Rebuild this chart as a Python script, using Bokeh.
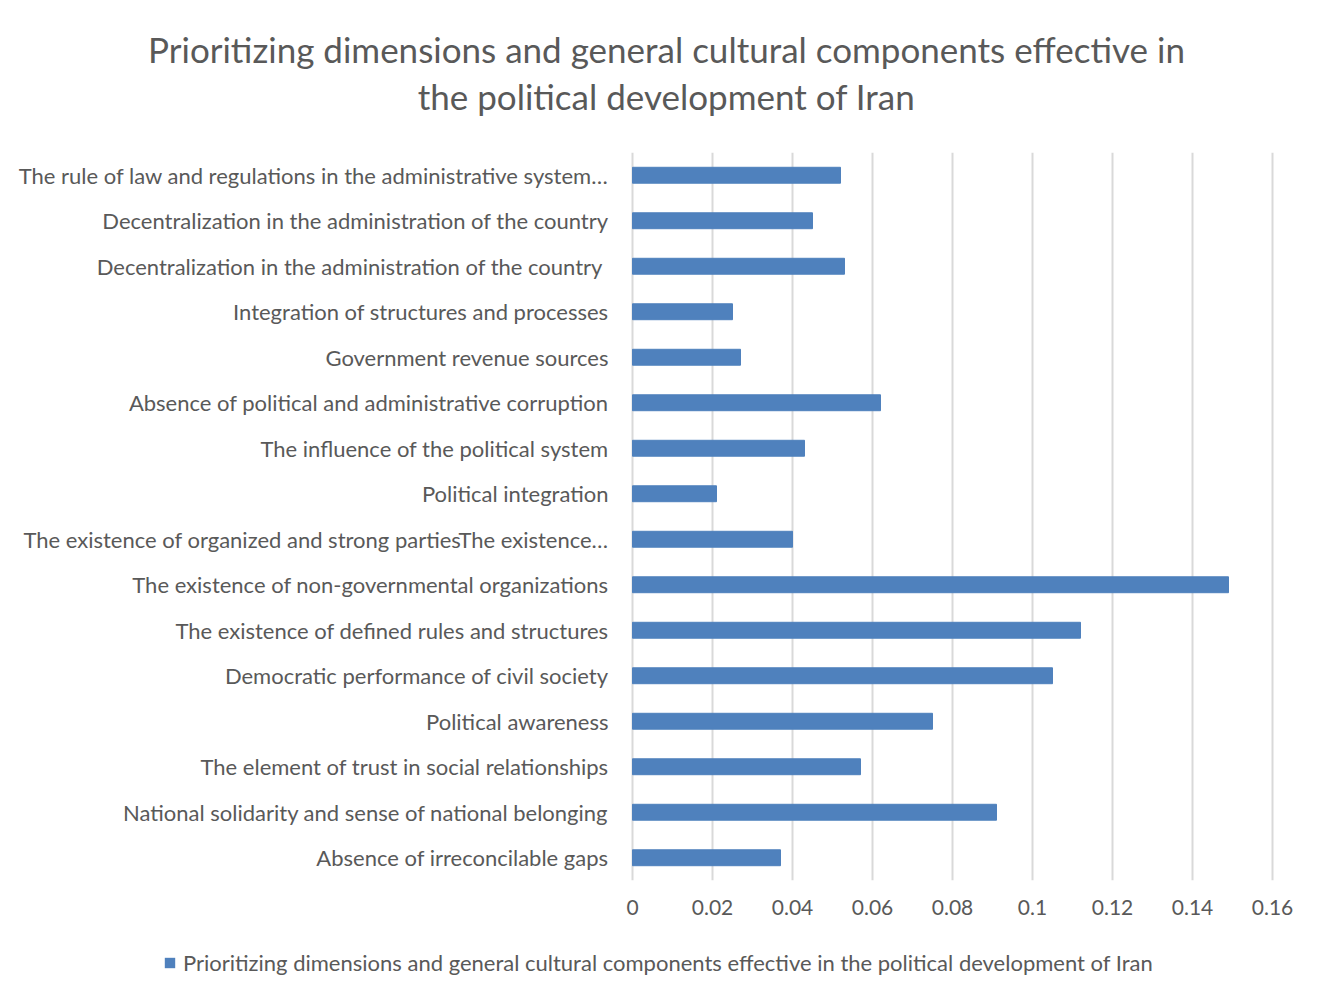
from bokeh.plotting import figure
from bokeh.models import FactorRange, Range1d, Legend, LegendItem, ColumnDataSource, FixedTicker
from bokeh.layouts import column
from bokeh.core.properties import value
from bokeh.embed import file_html
from bokeh.resources import INLINE

title_lines = ["Prioritizing dimensions and general cultural components effective in",
               "the political development of Iran"]
series_name = "Prioritizing dimensions and general cultural components effective in the political development of Iran"

categories = [
    "The rule of law and regulations in the administrative system…",
    "Decentralization in the administration of the country",
    "Decentralization in the administration of the country ",
    "Integration of structures and processes",
    "Government revenue sources",
    "Absence of political and administrative corruption",
    "The influence of the political system",
    "Political integration",
    "The existence of organized and strong partiesThe existence…",
    "The existence of non-governmental organizations",
    "The existence of defined rules and structures",
    "Democratic performance of civil society",
    "Political awareness",
    "The element of trust in social relationships",
    "National solidarity and sense of national belonging",
    "Absence of irreconcilable gaps",
]
values = [0.052, 0.045, 0.053, 0.025, 0.027, 0.062, 0.043, 0.021,
          0.040, 0.149, 0.112, 0.105, 0.075, 0.057, 0.091, 0.037]
x_ticks = [0, 0.02, 0.04, 0.06, 0.08, 0.1, 0.12, 0.14, 0.16]
x_tick_labels = ["0", "0.02", "0.04", "0.06", "0.08", "0.1", "0.12", "0.14", "0.16"]

FONT = "Lato"
GREY = "#595959"
BAR = "#4f81bd"
W = 1320                 # canvas width (px)
TITLE_H = 152            # title strip height (px)
PX_PER_UNIT = 4000       # horizontal scale: 0.02 -> 80 px
LEFT_PX = 632            # pixel position of value 0
RIGHT_PX = 48            # space right of value 0.16

# ---------------- title strip ----------------
pt = figure(frame_width=W, frame_height=TITLE_H, output_backend="svg", toolbar_location=None,
            x_range=Range1d(0, W), y_range=Range1d(TITLE_H, 0),
            x_axis_location=None, y_axis_location=None)
pt.min_border = 0
pt.grid.visible = False
pt.outline_line_color = None
pt.background_fill_color = "white"
pt.border_fill_color = "white"
pt.text(x=[666, 666], y=[48, 95], text=title_lines, text_align="center",
        text_baseline="middle", text_font=value(FONT), text_font_size="35px",
        text_color=GREY)

# ---------------- main chart ----------------
src = ColumnDataSource(dict(cat=categories, val=values))

x_max = x_ticks[-1]
p = figure(frame_width=W, frame_height=728, output_backend="svg", toolbar_location=None,
           y_range=FactorRange(*categories[::-1], range_padding=0),
           x_range=Range1d(-LEFT_PX / PX_PER_UNIT, x_max + RIGHT_PX / PX_PER_UNIT),
           y_axis_location=None)
p.min_border_left = 0
p.min_border_right = 0
p.min_border_top = 0
p.min_border_bottom = 50
p.outline_line_color = None
p.background_fill_color = "white"
p.border_fill_color = "white"

r = p.hbar(y="cat", right="val", left=0, height=0.35, source=src,
           fill_color=BAR, line_color=BAR)

# category labels, right-aligned just left of the value axis
p.text(x=0, y="cat", text="cat", source=src, x_offset=-24,
       text_align="right", text_baseline="middle", text_font=value(FONT),
       text_font_size="22px", text_color=GREY)

p.xaxis.ticker = FixedTicker(ticks=x_ticks)
p.xaxis.major_label_overrides = {t: l for t, l in zip(x_ticks, x_tick_labels)}
p.xaxis.axis_line_color = None
p.xaxis.major_tick_line_color = None
p.xaxis.minor_tick_line_color = None
p.xaxis.major_tick_out = 0
p.xaxis.major_label_standoff = 19
p.xaxis.major_label_text_font = FONT
p.xaxis.major_label_text_font_size = "21px"
p.xaxis.major_label_text_color = GREY

p.xgrid.grid_line_color = "#d9d9d9"
p.xgrid.grid_line_width = 2
p.xgrid.ticker = FixedTicker(ticks=x_ticks)
p.ygrid.grid_line_color = None

# ---------------- legend strip ----------------
pl = figure(frame_width=W, frame_height=60, output_backend="svg", toolbar_location=None,
            x_range=(0, 1), y_range=(0, 1),
            x_axis_location=None, y_axis_location=None)
pl.min_border = 0
pl.grid.visible = False
pl.outline_line_color = None
pl.background_fill_color = "white"
pl.border_fill_color = "white"
# zero-size proxy bar that only supplies the legend swatch
lr = pl.hbar(y=[0.5], right=[0], left=[0], height=0, fill_color=BAR, line_color=None)

legend = Legend(items=[LegendItem(label=series_name, renderers=[lr])],
                orientation="horizontal", location=(163, 14),
                label_text_font=FONT, label_text_font_size="22px",
                label_text_color=GREY, glyph_width=13, glyph_height=13,
                border_line_color=None, background_fill_alpha=0,
                margin=0, padding=4, label_standoff=7)
pl.add_layout(legend, "center")

layout = column(pt, p, pl, spacing=0)

open("out.html", "w").write(file_html(layout, INLINE))
